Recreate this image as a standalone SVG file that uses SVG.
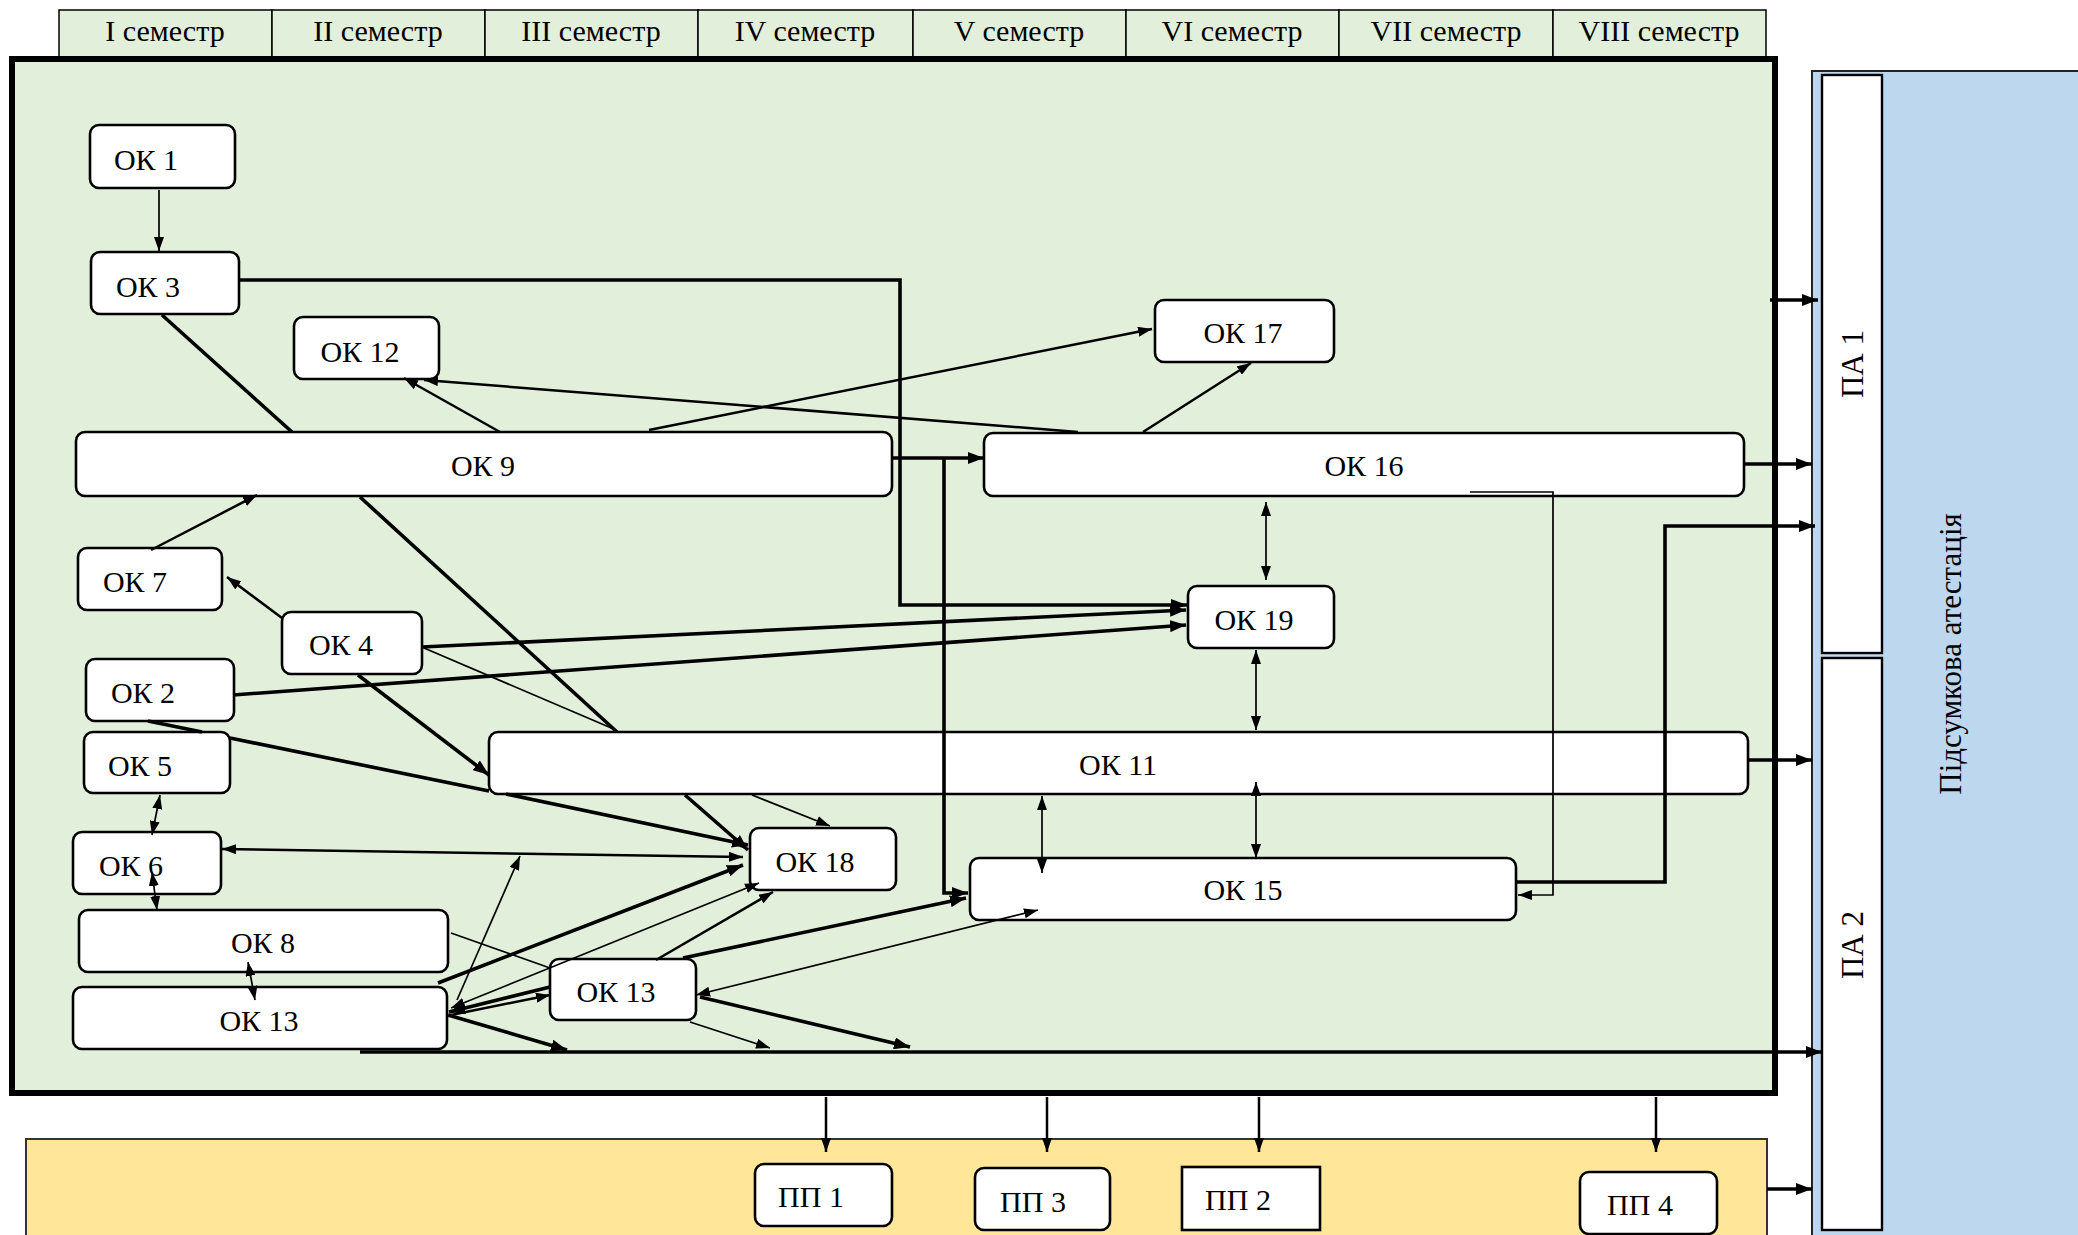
<svg xmlns="http://www.w3.org/2000/svg" width="2078" height="1235" viewBox="0 0 2078 1235">
<defs>
<style>
text{font-family:'Liberation Serif','DejaVu Serif',serif}
.t{font-size:30px;fill:#000;text-anchor:middle}
.n{fill:#fff;stroke:#000;stroke-width:2.6}
.c{fill:none;stroke:#000;stroke-linecap:butt}
.s1{stroke-width:1.7}
.s2{stroke-width:2.5}
.s3{stroke-width:3.6}
.e{marker-end:url(#ah)}
.eb{marker-end:url(#ahb)}
.d{marker-start:url(#ah);marker-end:url(#ah)}
.sem{fill:#E2EFDA;stroke:#000;stroke-width:1.5}
</style>
<marker id="ah" viewBox="0 0 14 10" refX="14" refY="5" markerWidth="14" markerHeight="10" markerUnits="userSpaceOnUse" orient="auto-start-reverse"><path d="M0,0 L14,5 L0,10 z" fill="#000"/></marker>
<marker id="ahb" viewBox="0 0 16 12" refX="16" refY="6" markerWidth="16" markerHeight="12" markerUnits="userSpaceOnUse" orient="auto-start-reverse"><path d="M0,0 L16,6 L0,12 z" fill="#000"/></marker>
</defs>
<rect x="0" y="0" width="2078" height="1235" fill="#fff"/>
<g id="semesters">
<rect class="sem" x="59" y="10" width="213" height="47"/>
<rect class="sem" x="272" y="10" width="213" height="47"/>
<rect class="sem" x="485" y="10" width="213" height="47"/>
<rect class="sem" x="698" y="10" width="215" height="47"/>
<rect class="sem" x="913" y="10" width="213" height="47"/>
<rect class="sem" x="1126" y="10" width="213" height="47"/>
<rect class="sem" x="1339" y="10" width="214" height="47"/>
<rect class="sem" x="1553" y="10" width="213" height="47"/>
<text class="t" x="165" y="41">I семестр</text>
<text class="t" x="378" y="41">II семестр</text>
<text class="t" x="591" y="41">III семестр</text>
<text class="t" x="805" y="41">IV семестр</text>
<text class="t" x="1019" y="41">V семестр</text>
<text class="t" x="1232" y="41">VI семестр</text>
<text class="t" x="1446" y="41">VII семестр</text>
<text class="t" x="1659" y="41">VIII семестр</text>
</g>
<g id="main-area"><rect x="12" y="59" width="1763" height="1034" fill="#E2EFDA" stroke="#000" stroke-width="6"/></g>
<g id="practice-area"><rect x="26" y="1139" width="1741" height="120" fill="#FFE699" stroke="#333" stroke-width="2"/></g>
<g id="attestation">
<rect x="1812" y="71" width="280" height="1180" fill="#BDD7EE" stroke="#222" stroke-width="2"/>
<text class="t" style="font-size:31px" transform="translate(1961,654) rotate(-90)">Підсумкова атестація</text>
</g>
<g id="PA1"><rect x="1822" y="75" width="60" height="578" fill="#fff" stroke="#000" stroke-width="2.4"/><text class="t" style="font-size:31px" transform="translate(1863,364) rotate(-90)">ПА 1</text></g>
<g id="PA2"><rect x="1822" y="658" width="60" height="572" fill="#fff" stroke="#000" stroke-width="2.4"/><text class="t" style="font-size:31px" transform="translate(1863,945) rotate(-90)">ПА 2</text></g>
<g id="OK1"><rect class="n" x="90" y="125" width="145" height="63" rx="9"/><text class="t" x="146" y="170">ОК 1</text></g>
<g id="OK3"><rect class="n" x="91" y="252" width="148" height="62" rx="9"/><text class="t" x="148" y="297">ОК 3</text></g>
<g id="OK12"><rect class="n" x="294" y="317" width="145" height="62" rx="9"/><text class="t" x="360" y="362">ОК 12</text></g>
<g id="OK17"><rect class="n" x="1155" y="300" width="179" height="62" rx="9"/><text class="t" x="1243" y="343">ОК 17</text></g>
<g id="OK9"><rect class="n" x="76" y="432" width="816" height="64" rx="9"/><text class="t" x="483" y="476">ОК 9</text></g>
<g id="OK16"><rect class="n" x="984" y="433" width="760" height="63" rx="9"/><text class="t" x="1364" y="476">ОК 16</text></g>
<g id="OK7"><rect class="n" x="78" y="548" width="144" height="62" rx="9"/><text class="t" x="135" y="592">ОК 7</text></g>
<g id="OK19"><rect class="n" x="1188" y="586" width="146" height="62" rx="9"/><text class="t" x="1254" y="630">ОК 19</text></g>
<g id="OK4"><rect class="n" x="282" y="612" width="140" height="62" rx="9"/><text class="t" x="341" y="655">ОК 4</text></g>
<g id="OK2"><rect class="n" x="86" y="659" width="148" height="62" rx="9"/><text class="t" x="143" y="703">ОК 2</text></g>
<g id="OK5"><rect class="n" x="84" y="732" width="146" height="61" rx="9"/><text class="t" x="140" y="776">ОК 5</text></g>
<g id="OK11"><rect class="n" x="489" y="732" width="1259" height="62" rx="9"/><text class="t" x="1118" y="775">ОК 11</text></g>
<g id="OK6"><rect class="n" x="73" y="832" width="148" height="62" rx="9"/><text class="t" x="131" y="876">ОК 6</text></g>
<g id="OK18"><rect class="n" x="750" y="828" width="146" height="62" rx="9"/><text class="t" x="815" y="872">ОК 18</text></g>
<g id="OK15"><rect class="n" x="970" y="858" width="546" height="62" rx="9"/><text class="t" x="1243" y="900">ОК 15</text></g>
<g id="OK8"><rect class="n" x="79" y="910" width="369" height="62" rx="9"/><text class="t" x="263" y="953">ОК 8</text></g>
<g id="OK13a"><rect class="n" x="73" y="987" width="374" height="62" rx="9"/><text class="t" x="259" y="1031">ОК 13</text></g>
<g id="OK13b"><rect class="n" x="550" y="959" width="146" height="61" rx="9"/><text class="t" x="616" y="1002">ОК 13</text></g>
<g id="PP1"><rect class="n" x="755" y="1164" width="137" height="62" rx="9"/><text class="t" x="811" y="1207">ПП 1</text></g>
<g id="PP3"><rect class="n" x="975" y="1168" width="135" height="62" rx="9"/><text class="t" x="1033" y="1212">ПП 3</text></g>
<g id="PP2"><rect class="n" x="1182" y="1167" width="138" height="63"/><text class="t" x="1238" y="1210">ПП 2</text></g>
<g id="PP4"><rect class="n" x="1580" y="1172" width="137" height="62" rx="9"/><text class="t" x="1640" y="1215">ПП 4</text></g>
<g id="connectors">
<path class="c s1 e" d="M159,190 V251"/>
<path class="c s3 eb" d="M239,280 H900 V605 H1187"/>
<path class="c s3 eb" d="M162,315 L292,432 M360,497 L617,732 M685,795 L748,850"/>
<path class="c s2 e" d="M500,432 L404,378"/>
<path class="c s2 e" d="M1078,432 L424,380"/>
<path class="c s2 e" d="M649,430 L1152,329"/>
<path class="c s2 e" d="M1143,432 L1251,363"/>
<path class="c s3 eb" d="M893,458 H984"/>
<path class="c s3 eb" d="M944,458 V893 H968"/>
<path class="c s1 e" d="M1470,492 H1553 V895 H1518"/>
<path class="c s3 eb" d="M1516,882 H1665 V526 H1815"/>
<path class="c s3 eb" d="M1770,300 H1818"/>
<path class="c s3 eb" d="M1745,464 H1812"/>
<path class="c s3 eb" d="M1748,760 H1812"/>
<path class="c s3 eb" d="M360,1052 H1822"/>
<path class="c s3 eb" d="M1767,1189 H1812"/>
<path class="c s2 e" d="M826,1097 V1152"/>
<path class="c s2 e" d="M1047,1097 V1152"/>
<path class="c s2 e" d="M1259,1097 V1152"/>
<path class="c s2 e" d="M1656,1097 V1152"/>
<path class="c s2 e" d="M151,550 L257,495"/>
<path class="c s2 e" d="M282,618 L227,577"/>
<path class="c s3 eb" d="M422,647 L1186,610"/>
<path class="c s3 eb" d="M233,695 L1186,625"/>
<path class="c s3 eb" d="M358,675 L489,775"/>
<path class="c s1 e" d="M424,648 L616,730 M752,795 L830,826"/>
<path class="c s3 eb" d="M148,721 L202,732 M230,738 L489,791 M506,794 L748,845"/>
<path class="c s1 d" d="M1266,502 V580"/>
<path class="c s1 d" d="M1256,650 V730"/>
<path class="c s1 d" d="M1042,796 V873"/>
<path class="c s1 d" d="M1256,782 V858"/>
<path class="c s1 d" d="M160,795 L152,835"/>
<path class="c s1 d" d="M152,872 L157,910"/>
<path class="c s1 d" d="M248,962 L255,1000"/>
<path class="c s2 d" d="M222,849 L743,857"/>
<path class="c s3 eb" d="M438,983 L743,865"/>
<path class="c s1 d" d="M759,883 L451,1008"/>
<path class="c s2 e" d="M656,960 L773,892"/>
<path class="c s3 eb" d="M683,958 L966,898"/>
<path class="c s1 d" d="M696,995 L1038,910"/>
<path class="c s3 eb" d="M700,997 L910,1047"/>
<path class="c s1 e" d="M690,1022 L770,1048"/>
<path class="c s3 eb" d="M448,1015 L567,1050"/>
<path class="c s1" d="M451,933 L550,968"/>
<path class="c s1 e" d="M457,1000 L520,856"/>
<path class="c s3 eb" d="M550,987 L449,1012"/>
<path class="c s2 e" d="M451,1015 L550,995"/>
</g>
</svg>
